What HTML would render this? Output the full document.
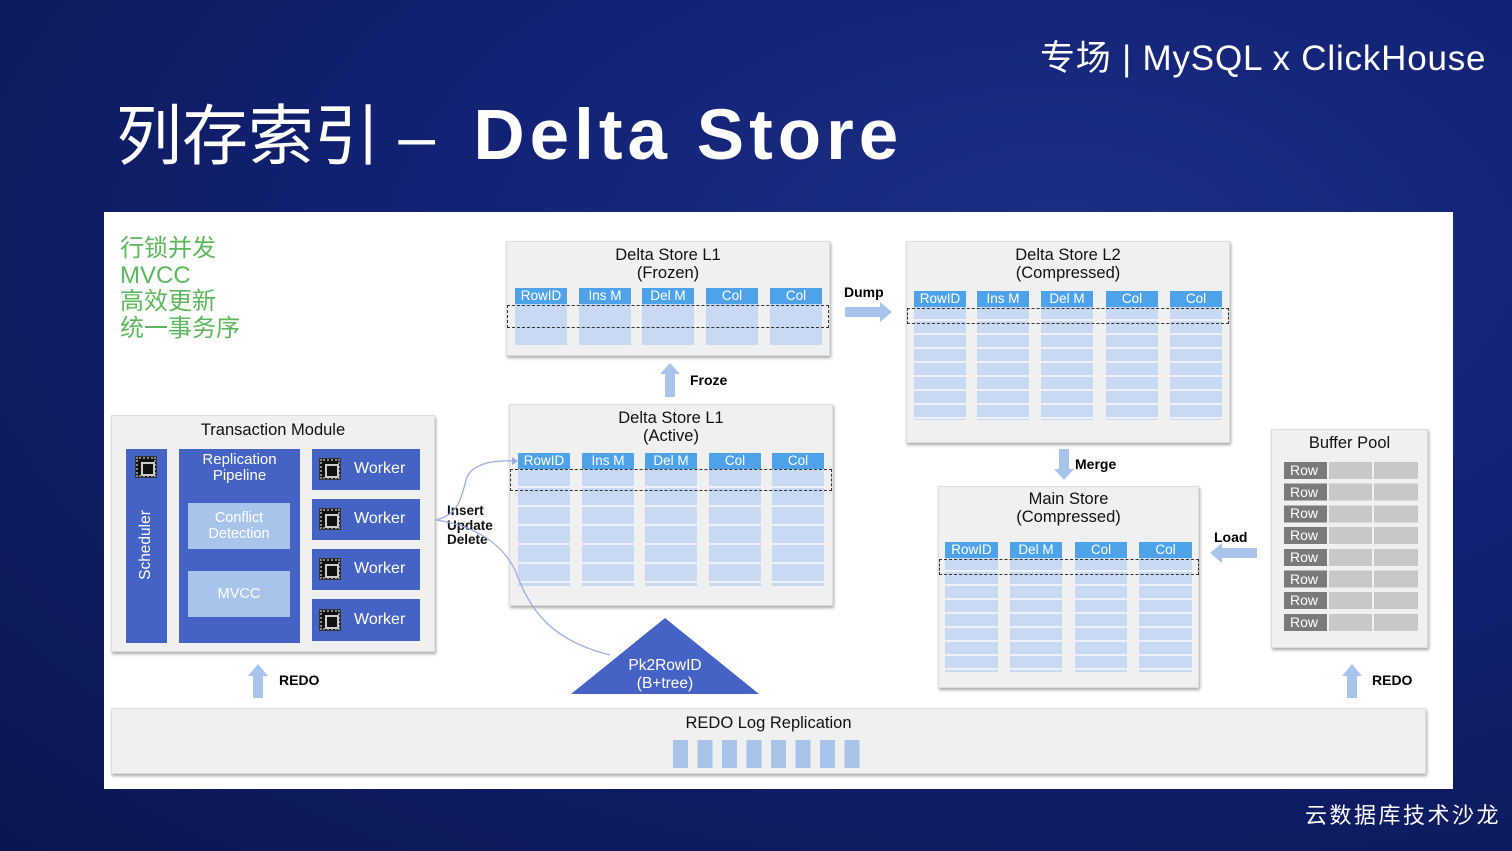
<!DOCTYPE html>
<html><head><meta charset="utf-8"><style>
*{margin:0;padding:0;box-sizing:border-box}
body{width:1512px;height:851px;overflow:hidden;position:relative;font-family:"Liberation Sans","Noto Sans CJK SC",sans-serif;background:radial-gradient(ellipse at 70% 30%,#1d2f86 0%,#122275 40%,#0b1650 100%)}
.a{position:absolute}
.box{position:absolute;background:#f0f0f0;box-shadow:1px 2px 3px rgba(0,0,0,.35);border:1px solid #ddd}
.t{position:absolute;text-align:center;color:#111;font-size:16.5px;line-height:18px}
.h{position:absolute;height:16px;background:#4ea2ea;color:#fff;font-size:13.5px;line-height:16px;text-align:center}
.c{position:absolute;background:repeating-linear-gradient(#c8daf3 0 12px,#eef2f8 12px 14px)}
.c2{position:absolute;background:repeating-linear-gradient(#c8daf3 0 17px,#eef2f8 17px 19px)}
.d{position:absolute;border:1px dashed #333}
.bl{position:absolute;background:#4463c4;color:#fff;text-align:center}
.lb{position:absolute;background:#a9c4ea;color:#fff;text-align:center;font-size:14.5px;line-height:16px}
.chip{position:absolute;width:20px;height:20px;background:#111;border:2px dotted #888;outline:1px solid #333}
.chip:after{content:"";position:absolute;left:3px;top:3px;width:10px;height:10px;border:2px solid #ccc}
</style></head><body>
<div class="a" style="left:1040px;top:30px;color:#fff;font-size:35px;letter-spacing:0.8px;white-space:nowrap">专场 <span style="font-weight:300">|</span> MySQL x ClickHouse</div>
<div class="a" style="left:116px;top:96px;color:#fff;font-size:66px;white-space:nowrap;line-height:80px">列存索引 – <b style="letter-spacing:5px;font-size:71px;margin-left:20px">Delta Store</b></div>
<div class="a" style="left:1305px;top:798px;color:#fff;font-size:22px;letter-spacing:2.5px">云数据库技术沙龙</div>

<div class="a" style="left:104px;top:212px;width:1349px;height:577px;background:#fff"></div>
<div class="a" style="left:120px;top:236px;color:#5cb85c;font-size:24px;line-height:26.5px">行锁并发<br>MVCC<br>高效更新<br>统一事务序</div>

<!-- L1 Frozen -->
<div class="box" style="left:506px;top:241px;width:324px;height:115px"></div>
<div class="t" style="left:506px;top:246px;width:324px">Delta Store L1<br>(Frozen)</div>
<div class="c" style="left:515px;top:304px;width:52px;height:41px;background:#c8daf3"></div>
<div class="c" style="left:579px;top:304px;width:52px;height:41px;background:#c8daf3"></div>
<div class="c" style="left:642px;top:304px;width:52px;height:41px;background:#c8daf3"></div>
<div class="c" style="left:706px;top:304px;width:52px;height:41px;background:#c8daf3"></div>
<div class="c" style="left:770px;top:304px;width:52px;height:41px;background:#c8daf3"></div>
<div class="h" style="left:515px;top:288px;width:52px">RowID</div>
<div class="h" style="left:579px;top:288px;width:52px">Ins M</div>
<div class="h" style="left:642px;top:288px;width:52px">Del M</div>
<div class="h" style="left:706px;top:288px;width:52px">Col</div>
<div class="h" style="left:770px;top:288px;width:52px">Col</div>
<div class="d" style="left:507px;top:305px;width:322px;height:23px"></div>

<!-- L1 Active -->
<div class="box" style="left:509px;top:404px;width:324px;height:202px"></div>
<div class="t" style="left:509px;top:409px;width:324px">Delta Store L1<br>(Active)</div>
<div class="c2" style="left:518px;top:469px;width:52px;height:117px"></div>
<div class="c2" style="left:582px;top:469px;width:52px;height:117px"></div>
<div class="c2" style="left:645px;top:469px;width:52px;height:117px"></div>
<div class="c2" style="left:709px;top:469px;width:52px;height:117px"></div>
<div class="c2" style="left:772px;top:469px;width:52px;height:117px"></div>
<div class="h" style="left:518px;top:453px;width:52px">RowID</div>
<div class="h" style="left:582px;top:453px;width:52px">Ins M</div>
<div class="h" style="left:645px;top:453px;width:52px">Del M</div>
<div class="h" style="left:709px;top:453px;width:52px">Col</div>
<div class="h" style="left:772px;top:453px;width:52px">Col</div>
<div class="d" style="left:510px;top:469px;width:322px;height:22px"></div>

<!-- L2 -->
<div class="box" style="left:906px;top:241px;width:324px;height:202px"></div>
<div class="t" style="left:906px;top:246px;width:324px">Delta Store L2<br>(Compressed)</div>
<div class="c" style="left:914px;top:307px;width:52px;height:113px"></div>
<div class="c" style="left:977px;top:307px;width:52px;height:113px"></div>
<div class="c" style="left:1041px;top:307px;width:52px;height:113px"></div>
<div class="c" style="left:1106px;top:307px;width:52px;height:113px"></div>
<div class="c" style="left:1170px;top:307px;width:52px;height:113px"></div>
<div class="h" style="left:914px;top:291px;width:52px">RowID</div>
<div class="h" style="left:977px;top:291px;width:52px">Ins M</div>
<div class="h" style="left:1041px;top:291px;width:52px">Del M</div>
<div class="h" style="left:1106px;top:291px;width:52px">Col</div>
<div class="h" style="left:1170px;top:291px;width:52px">Col</div>
<div class="d" style="left:907px;top:308px;width:322px;height:16px"></div>

<!-- Main store -->
<div class="box" style="left:938px;top:486px;width:261px;height:202px"></div>
<div class="t" style="left:938px;top:490px;width:261px">Main Store<br>(Compressed)</div>
<div class="c" style="left:945px;top:558px;width:53px;height:114px"></div>
<div class="c" style="left:1010px;top:558px;width:52px;height:114px"></div>
<div class="c" style="left:1075px;top:558px;width:52px;height:114px"></div>
<div class="c" style="left:1139px;top:558px;width:53px;height:114px"></div>
<div class="h" style="left:945px;top:542px;width:53px">RowID</div>
<div class="h" style="left:1010px;top:542px;width:52px">Del M</div>
<div class="h" style="left:1075px;top:542px;width:52px">Col</div>
<div class="h" style="left:1139px;top:542px;width:53px">Col</div>
<div class="d" style="left:939px;top:559px;width:260px;height:16px"></div>

<!-- Buffer pool -->
<div class="box" style="left:1271px;top:429px;width:157px;height:219px"></div>
<div class="t" style="left:1271px;top:434px;width:157px">Buffer Pool</div>
<div class="a" style="left:1284px;top:462px">
<div style="position:relative;width:134px;height:172px">
<div style="position:absolute;left:0;top:0;width:43px;height:172px;background:repeating-linear-gradient(#7a7a7a 0 17px,#f0f0f0 17px 21.7px)"></div>
<div style="position:absolute;left:0;top:-2px;width:43px;color:#fff;font-size:14px;line-height:21.7px;padding-left:6px">Row<br>Row<br>Row<br>Row<br>Row<br>Row<br>Row<br>Row</div>
<div style="position:absolute;left:45px;top:0;width:43px;height:172px;background:repeating-linear-gradient(#c8c8c8 0 17px,#f0f0f0 17px 21.7px)"></div>
<div style="position:absolute;left:90px;top:0;width:44px;height:172px;background:repeating-linear-gradient(#c8c8c8 0 17px,#f0f0f0 17px 21.7px)"></div>
</div></div>

<!-- Transaction module -->
<div class="box" style="left:111px;top:415px;width:324px;height:237px"></div>
<div class="t" style="left:111px;top:421px;width:324px">Transaction Module</div>
<div class="bl" style="left:126px;top:449px;width:41px;height:194px"></div>
<div class="chip" style="left:136px;top:457px"></div>
<div class="a" style="left:146px;top:545px;transform:translate(-50%,-50%) rotate(-90deg);color:#fff;font-size:15.5px;white-space:nowrap">Scheduler</div>
<div class="bl" style="left:179px;top:449px;width:121px;height:194px;font-size:15px;line-height:16px;padding-top:3px">Replication<br>Pipeline</div>
<div class="lb" style="left:188px;top:503px;width:102px;height:46px;padding-top:7px">Conflict<br>Detection</div>
<div class="lb" style="left:188px;top:571px;width:102px;height:46px;line-height:46px">MVCC</div>
<div class="bl" style="left:312px;top:449px;width:108px;height:41px"></div>
<div class="bl" style="left:312px;top:499px;width:108px;height:41px"></div>
<div class="bl" style="left:312px;top:549px;width:108px;height:41px"></div>
<div class="bl" style="left:312px;top:599px;width:108px;height:42px"></div>
<div class="chip" style="left:320px;top:459px"></div><div class="a" style="left:354px;top:460px;color:#fff;font-size:16px">Worker</div>
<div class="chip" style="left:320px;top:509px"></div><div class="a" style="left:354px;top:510px;color:#fff;font-size:16px">Worker</div>
<div class="chip" style="left:320px;top:559px"></div><div class="a" style="left:354px;top:560px;color:#fff;font-size:16px">Worker</div>
<div class="chip" style="left:320px;top:610px"></div><div class="a" style="left:354px;top:611px;color:#fff;font-size:16px">Worker</div>

<div class="a" style="left:447px;top:504px;font-size:13.5px;line-height:14.5px;font-weight:bold;color:#111">Insert<br>Update<br>Delete</div>

<!-- REDO log -->
<div class="box" style="left:111px;top:708px;width:1315px;height:66px"></div>
<div class="t" style="left:111px;top:714px;width:1315px">REDO Log Replication</div>
<div class="a" style="left:673px;top:740px;width:190px;height:28px;background:repeating-linear-gradient(90deg,#a9c4ea 0 15px,transparent 15px 24.5px)"></div>

<svg class="a" style="left:0;top:0" width="1512" height="851">
<polygon points="665,618 759,694 571,694" fill="#4463c4"/>
<text x="665" y="670" fill="#fff" font-size="15.5" text-anchor="middle" font-family="Liberation Sans">Pk2RowID</text>
<text x="665" y="688" fill="#fff" font-size="15.5" text-anchor="middle" font-family="Liberation Sans">(B+tree)</text>
<g fill="#a9c4ea">
<polygon points="665,397 665,374 660,374 670,363 680,374 675,374 675,397"/>
<polygon points="845,307 880,307 880,302 892,312 880,322 880,317 845,317"/>
<polygon points="1059,449 1069,449 1069,469 1074,469 1064,480 1054,469 1059,469"/>
<polygon points="1257,548 1222,548 1222,543 1210,553 1222,563 1222,558 1257,558"/>
<polygon points="253,698 253,676 248,676 258,664 268,676 263,676 263,698"/>
<polygon points="1347,698 1347,676 1342,676 1352,664 1362,676 1357,676 1357,698"/>
</g>
<g fill="none" stroke="#9aaee0" stroke-width="1.3">
<path d="M436,520 C455,515 460,505 466,480 C470,465 490,460 512,461"/>
<path d="M436,520 C470,525 500,540 515,570 C530,610 550,640 610,655"/>
</g>
<polygon points="512,457 518,461 512,465" fill="#9aaee0"/>
<g font-size="14" font-weight="bold" font-family="Liberation Sans">
<text x="690" y="385">Froze</text>
<text x="844" y="297">Dump</text>
<text x="1075" y="469">Merge</text>
<text x="1214" y="542">Load</text>
<text x="279" y="685">REDO</text>
<text x="1372" y="685">REDO</text>
</g>
</svg>
</body></html>
